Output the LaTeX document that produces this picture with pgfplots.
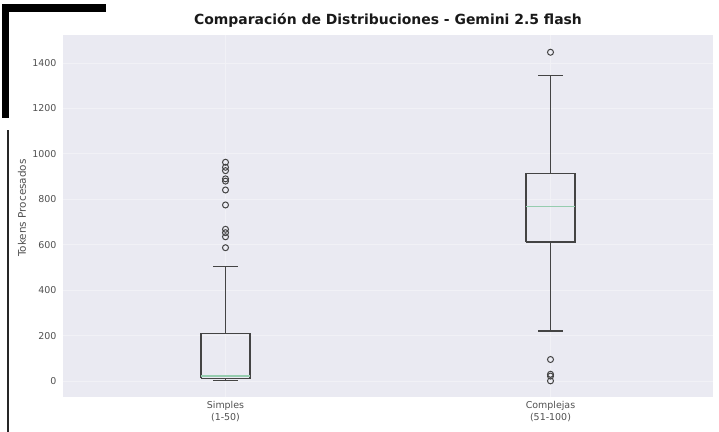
\documentclass[border=0pt]{standalone}
\usepackage{pgfplots}
\pgfplotsset{compat=1.18}
\usepackage{fontspec}
\setmainfont{DejaVu Sans}
\definecolor{bgcol}{HTML}{EAEAF2}
\definecolor{gridcol}{HTML}{F1F1F6}
\definecolor{boxcol}{HTML}{444444}
\definecolor{medcol}{RGB}{150,205,175}
\definecolor{tickcol}{HTML}{505050}

\begin{document}
\begin{tikzpicture}
  \path[use as bounding box] (0bp,0bp) rectangle (719bp,432bp);
  % dark frame bits of the screenshot
  \fill[black] (2bp,428bp) rectangle (106bp,420bp);
  \fill[black] (2bp,428bp) rectangle (9bp,314bp);
  \fill[black!85] (7bp,0bp) rectangle (9bp,302bp);

  \begin{axis}[
      at={(63bp,35bp)}, anchor=south west,
      scale only axis,
      width=650bp, height=362bp,
      xmin=0.5, xmax=2.5,
      ymin=-70, ymax=1523,
      xtick={1,2},
      xticklabels={{Simples\\(1-50)},{Complejas\\(51-100)}},
      ytick={0,200,...,1400},
      /pgf/number format/1000 sep={},
      /pgf/number format/assume math mode=true,
      axis line style={draw=none},
      tick style={draw=none},
      axis background/.style={fill=bgcol},
      grid=major,
      major grid style={gridcol, line width=0.8bp},
      ticklabel style={font=\fontsize{9.5}{11.5}\selectfont, text=tickcol},
      xticklabel style={align=center, yshift=-1bp},
      yticklabel style={xshift=-3bp},
      ylabel={Tokens Procesados},
      ylabel style={font=\fontsize{10.5}{12}\selectfont, text=tickcol, at={(axis description cs:0,0.5)}, anchor=center, xshift=8bp, yshift=41bp},
      title={\bfseries Comparación de Distribuciones - Gemini 2.5 flash},
      title style={font=\fontsize{14}{16}\selectfont, text=black!90, at={(0.5,1)}, anchor=center, yshift=9bp},
      every axis plot/.append style={line width=1.3bp},
    ]
    % Simples (1-50)
    \addplot[boxcol] coordinates {(0.925,12) (1.075,12) (1.075,210) (0.925,210) (0.925,12)};
    \addplot[boxcol] coordinates {(1,210) (1,503)};
    \addplot[boxcol] coordinates {(0.9625,503) (1.0375,503)};
    \addplot[boxcol] coordinates {(1,12) (1,2)};
    \addplot[boxcol] coordinates {(0.9625,2) (1.0375,2)};
    \addplot[medcol] coordinates {(0.925,22) (1.075,22)};
    \addplot[only marks, mark=o, mark size=3bp, mark options={draw=boxcol, line width=1bp}]
      coordinates {(1,963) (1,941) (1,926) (1,890) (1,880) (1,841) (1,775) (1,668) (1,653) (1,635) (1,587)};
    % Complejas (51-100)
    \addplot[boxcol] coordinates {(1.925,612) (2.075,612) (2.075,915) (1.925,915) (1.925,612)};
    \addplot[boxcol] coordinates {(2,915) (2,1346)};
    \addplot[boxcol] coordinates {(1.9625,1346) (2.0375,1346)};
    \addplot[boxcol] coordinates {(2,612) (2,221)};
    \addplot[boxcol] coordinates {(1.9625,221) (2.0375,221)};
    \addplot[medcol] coordinates {(1.925,767) (2.075,767)};
    \addplot[only marks, mark=o, mark size=3bp, mark options={draw=boxcol, line width=1bp}]
      coordinates {(2,1447) (2,95) (2,30) (2,22) (2,1)};
  \end{axis}
\end{tikzpicture}
\end{document}
